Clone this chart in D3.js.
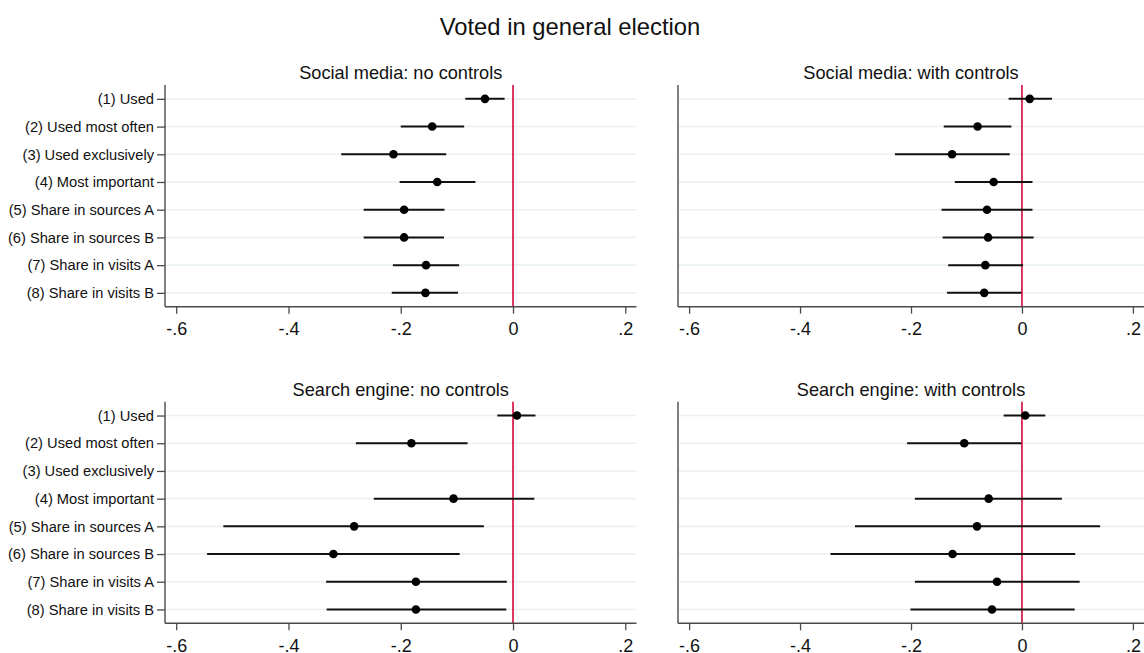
<!DOCTYPE html>
<html>
<head>
<meta charset="utf-8">
<script src="https://cdn.jsdelivr.net/npm/d3@7"></script>
<style>
  html, body { margin: 0; padding: 0; background: #fff; }
  svg { display: block; font-family: "Liberation Sans", Arial, sans-serif; }
</style>
</head>
<body>
<svg id="chart" width="1144" height="653"></svg>
<script>
// Outcome measures (rows) and x-axis ticks
const measures = [
  "(1) Used", "(2) Used most often", "(3) Used exclusively", "(4) Most important",
  "(5) Share in sources A", "(6) Share in sources B", "(7) Share in visits A", "(8) Share in visits B"
];
const xTicks = [-0.6, -0.4, -0.2, 0, 0.2];
const panelTitles = [
  "Social media: no controls", "Social media: with controls",
  "Search engine: no controls", "Search engine: with controls"
];

// Point estimates and 95% CI bounds, one array per panel (null = not estimated)
const socialNoCtrlEst  = [-0.050, -0.144, -0.213, -0.135, -0.194, -0.194, -0.155, -0.156];
const socialNoCtrlLo   = [-0.085, -0.200, -0.306, -0.202, -0.266, -0.266, -0.214, -0.216];
const socialNoCtrlHi   = [-0.015, -0.087, -0.119, -0.067, -0.122, -0.123, -0.096, -0.098];

const socialCtrlEst    = [ 0.014, -0.080, -0.126, -0.051, -0.063, -0.061, -0.066, -0.068];
const socialCtrlLo     = [-0.024, -0.141, -0.229, -0.121, -0.145, -0.143, -0.133, -0.135];
const socialCtrlHi     = [ 0.054, -0.019, -0.022,  0.019,  0.019,  0.021,  0.002, -0.001];

const searchNoCtrlEst  = [ 0.007, -0.181, null, -0.106, -0.283, -0.320, -0.173, -0.173];
const searchNoCtrlLo   = [-0.028, -0.280, null, -0.248, -0.516, -0.545, -0.333, -0.332];
const searchNoCtrlHi   = [ 0.040, -0.081, null,  0.038, -0.052, -0.095, -0.011, -0.012];

const searchCtrlEst    = [ 0.006, -0.104, null, -0.060, -0.081, -0.125, -0.045, -0.054];
const searchCtrlLo     = [-0.033, -0.207, null, -0.193, -0.301, -0.345, -0.193, -0.201];
const searchCtrlHi     = [ 0.042, -0.001, null,  0.072,  0.141,  0.096,  0.104,  0.095];

const panelData = [
  [socialNoCtrlEst, socialNoCtrlLo, socialNoCtrlHi],
  [socialCtrlEst, socialCtrlLo, socialCtrlHi],
  [searchNoCtrlEst, searchNoCtrlLo, searchNoCtrlHi],
  [searchCtrlEst, searchCtrlLo, searchCtrlHi]
];

const svg = d3.select("#chart");
svg.append("rect").attr("width", 1144).attr("height", 653).attr("fill", "#fff");

svg.append("text")
  .attr("x", 570).attr("y", 35)
  .attr("text-anchor", "middle")
  .attr("font-size", 23.8)
  .attr("fill", "#111")
  .text("Voted in general election");

// Plot-area frames for the 2x2 grid
const frames = [
  { left: 165, right: 636.5, top: 85,    bottom: 306.7, labels: true },
  { left: 678, right: 1144,  top: 85,    bottom: 306.7, labels: false },
  { left: 165, right: 636.5, top: 401.7, bottom: 623.3, labels: true },
  { left: 678, right: 1144,  top: 401.7, bottom: 623.3, labels: false }
];

const tickFmt = v => v === 0 ? "0" : String(+v.toFixed(1)).replace("0.", ".");

frames.forEach((f, i) => {
  const x = d3.scaleLinear().domain([-0.62, 0.22]).range([f.left, f.right]);
  const y = d3.scaleLinear().domain([0.5, 8.5]).range([f.top, f.bottom]);
  const g = svg.append("g");
  const rows = measures.map((m, k) => k + 1);

  // horizontal grid lines
  g.selectAll("line.grid").data(rows).join("line")
    .attr("class", "grid")
    .attr("x1", f.left).attr("x2", f.right)
    .attr("y1", d => y(d)).attr("y2", d => y(d))
    .attr("stroke", "#e9f1f3").attr("stroke-width", 1.6);

  // zero reference line
  g.append("line")
    .attr("x1", x(0)).attr("x2", x(0))
    .attr("y1", f.top).attr("y2", f.bottom)
    .attr("stroke", "#d1063a").attr("stroke-width", 1.6);

  // confidence intervals and point estimates
  const [est, lo, hi] = panelData[i];
  const pts = rows.map((r, k) => ({ r, e: est[k], lo: lo[k], hi: hi[k] })).filter(d => d.e !== null);
  g.selectAll("line.ci").data(pts).join("line")
    .attr("class", "ci")
    .attr("x1", d => x(d.lo)).attr("x2", d => x(d.hi))
    .attr("y1", d => y(d.r)).attr("y2", d => y(d.r))
    .attr("stroke", "#111").attr("stroke-width", 2);
  g.selectAll("circle.pt").data(pts).join("circle")
    .attr("class", "pt")
    .attr("cx", d => x(d.e)).attr("cy", d => y(d.r))
    .attr("r", 4.3).attr("fill", "#000");

  // x axis
  const xa = g.append("g")
    .attr("transform", `translate(0,${f.bottom})`)
    .call(d3.axisBottom(x).tickValues(xTicks).tickFormat(tickFmt).tickSize(7).tickPadding(9).tickSizeOuter(0));
  xa.select(".domain").attr("stroke", "#4a4a4a").attr("stroke-width", 1.4)
    .attr("d", `M${f.left},0H${f.right}`);
  xa.selectAll(".tick line").attr("stroke", "#4a4a4a").attr("stroke-width", 1.3);
  xa.selectAll(".tick text").attr("font-size", 18).attr("fill", "#111")
    .attr("font-family", "Liberation Sans, Arial, sans-serif");

  // y axis
  const ya = g.append("g").attr("transform", `translate(${f.left},0)`);
  if (f.labels) {
    ya.call(d3.axisLeft(y).tickValues(rows).tickFormat(d => measures[d - 1]).tickSize(8).tickPadding(3).tickSizeOuter(0));
    ya.selectAll(".tick line").attr("stroke", "#4a4a4a").attr("stroke-width", 1.3);
    ya.selectAll(".tick text").attr("font-size", 14.7).attr("fill", "#111")
      .attr("font-family", "Liberation Sans, Arial, sans-serif");
  } else {
    ya.call(d3.axisLeft(y).tickValues([]).tickSizeOuter(0));
  }
  ya.select(".domain").attr("stroke", "#4a4a4a").attr("stroke-width", 1.4)
    .attr("d", `M0,${f.top}V${f.bottom}`);

  // panel title
  svg.append("text")
    .attr("x", (f.left + f.right) / 2).attr("y", f.top - 6)
    .attr("text-anchor", "middle")
    .attr("font-size", 18.2)
    .attr("fill", "#111")
    .text(panelTitles[i]);
});
</script>
</body>
</html>
